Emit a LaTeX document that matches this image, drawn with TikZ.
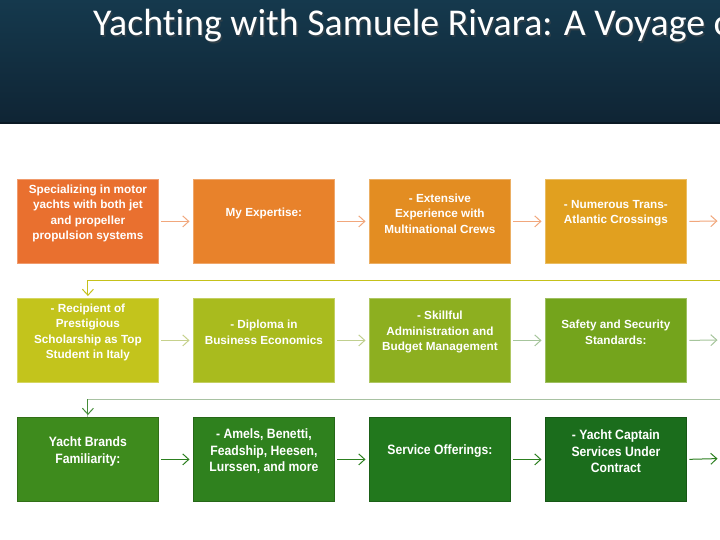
\documentclass[tikz,border=0pt]{standalone}
\usepackage{fontspec}
\setmainfont{Liberation Sans}
\newfontfamily\titlefont[Ligatures=NoCommon]{Carlito}
\newfontfamily\condfont[FakeStretch=0.9]{Liberation Sans}
\usetikzlibrary{arrows.meta}
\definecolor{hdtop}{HTML}{15394D}
\definecolor{hdbot}{HTML}{0F2434}
\definecolor{o1}{HTML}{E9702F}
\definecolor{o2}{HTML}{E8822B}
\definecolor{o3}{HTML}{E38D22}
\definecolor{o4}{HTML}{E1A01F}
\definecolor{y1}{HTML}{C3C41C}
\definecolor{y2}{HTML}{A9BB1E}
\definecolor{y3}{HTML}{8DAF20}
\definecolor{y4}{HTML}{74A41C}
\definecolor{g1}{HTML}{3E8B1D}
\definecolor{g2}{HTML}{2F811E}
\definecolor{g3}{HTML}{22781D}
\definecolor{g4}{HTML}{1B6D1C}
\definecolor{arO}{HTML}{F1A77C}
\definecolor{arY}{HTML}{C6D18C}
\definecolor{arS}{HTML}{A6C59C}
\definecolor{arG}{HTML}{2C7F1F}
\definecolor{wrapY}{HTML}{C5C11A}
\definecolor{wrapS}{HTML}{A8C2A2}
\begin{document}
\begin{tikzpicture}[x=1bp,y=-1bp,
  bx/.style={fill=#1, draw=#1!70!white, line width=0.8bp, minimum width=141bp, minimum height=84bp, anchor=north west, inner sep=0pt},
  bxd/.style={fill=#1, draw=#1!80!black, line width=0.8bp, minimum width=141bp, minimum height=84bp, anchor=north west, inner sep=0pt},
  txt/.style={text=white, font=\bfseries\fontsize{11.8}{15.5}\selectfont, align=center, inner sep=0pt},
  txtc/.style={text=white, font=\condfont\bfseries\fontsize{13.6}{16.5}\selectfont, align=center, inner sep=0pt},
  arr/.style={draw=#1, line width=1bp, -{Straight Barb[length=6bp,width=11bp]}, shorten <=2.5bp, shorten >=3.5bp},
  wrapline/.style={draw=#1, line width=1bp}
]
\useasboundingbox (0,0) rectangle (720,540);
\clip (0,0) rectangle (720,540);
\fill[white] (0,0) rectangle (720,540);
% header
\shade[top color=hdtop, bottom color=hdbot] (0,0) rectangle (720,124);
\fill[hdbot!70!black] (0,122.5) rectangle (720,124.5);
\node[anchor=base west, inner sep=0pt, text=black!70, opacity=0.5, font=\titlefont\fontsize{38}{42}\selectfont] (tshadow) at (94.5,37.5) {Yachting with Samuele Rivara: A Voyage o};
\node[anchor=base west, inner sep=0pt, text=white, font=\titlefont\fontsize{38}{42}\selectfont] (title) at (93,36) {Yachting with Samuele Rivara: A Voyage o};

% row 1
\node[bx=o1] (a1) at (17,179) {};
\node[bx=o2] (a2) at (193,179) {};
\node[bx=o3] (a3) at (369,179) {};
\node[bx=o4] (a4) at (545,179) {};
\coordinate (a5) at (721,221);
\node[txt] (ta1) at ([yshift=8bp]a1.center) {Specializing in motor\\yachts with both jet\\and propeller\\propulsion systems};
\node[txt] (ta2) at ([yshift=8bp]a2.center) {My Expertise:};
\node[txt] (ta3) at ([yshift=8bp]a3.center) {- Extensive\\Experience with\\Multinational Crews};
\node[txt] (ta4) at ([yshift=8bp]a4.center) {- Numerous Trans-\\Atlantic Crossings};

% row 2
\node[bx=y1] (b1) at (17,298) {};
\node[bx=y2] (b2) at (193,298) {};
\node[bx=y3] (b3) at (369,298) {};
\node[bx=y4] (b4) at (545,298) {};
\coordinate (b5) at (721,340);
\node[txt] (tb1) at ([yshift=8bp]b1.center) {- Recipient of\\Prestigious\\Scholarship as Top\\Student in Italy};
\node[txt] (tb2) at ([yshift=8bp]b2.center) {- Diploma in\\Business Economics};
\node[txt] (tb3) at ([yshift=8bp]b3.center) {- Skillful\\Administration and\\Budget Management};
\node[txt] (tb4) at ([yshift=8bp]b4.center) {Safety and Security\\Standards:};

% row 3
\node[bxd=g1] (c1) at (17,417) {};
\node[bxd=g2] (c2) at (193,417) {};
\node[bxd=g3] (c3) at (369,417) {};
\node[bxd=g4] (c4) at (545,417) {};
\coordinate (c5) at (721,458.5);
\node[txtc] (tc1) at ([yshift=8bp]c1.center) {Yacht Brands\\Familiarity:};
\node[txtc] (tc2) at ([yshift=8bp]c2.center) {- Amels, Benetti,\\Feadship, Heesen,\\Lurssen, and more};
\node[txtc] (tc3) at ([yshift=8bp]c3.center) {Service Offerings:};
\node[txtc] (tc4) at ([yshift=8bp]c4.center) {- Yacht Captain\\Services Under\\Contract};

% row arrows
\draw[arr=arO] (a1.east) -- (a2.west);
\draw[arr=arO] (a2.east) -- (a3.west);
\draw[arr=arO] (a3.east) -- (a4.west);
\draw[arr=arO] (a4.east) -- (a5);
\draw[arr=arY] (b1.east) -- (b2.west);
\draw[arr=arY!80!arS] (b2.east) -- (b3.west);
\draw[arr=arS] (b3.east) -- (b4.west);
\draw[arr=arS] (b4.east) -- (b5);
\draw[arr=arG] (c1.east) -- (c2.west);
\draw[arr=arG] (c2.east) -- (c3.west);
\draw[arr=arG] (c3.east) -- (c4.west);
\draw[arr=arG] (c4.east) -- (c5);

% wrap connectors
\coordinate (w1) at (725,280);
\coordinate (w2) at (725,399);
\draw[wrapline=wrapY, -{Straight Barb[length=6bp,width=11bp]}, shorten >=2bp] (w1) -| (b1.north);
\draw[wrapline=wrapS] (w2) -| (c1.north);
\draw[wrapline=arG!80!wrapS, -{Straight Barb[length=6bp,width=11bp]}, shorten >=2bp] (c1.north |- w2) -- (c1.north);
\end{tikzpicture}
\end{document}
